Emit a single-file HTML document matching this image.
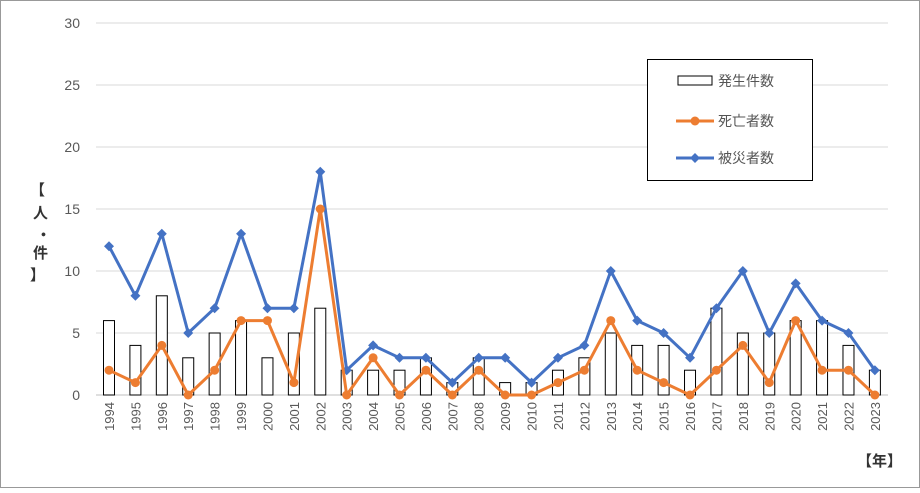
<!DOCTYPE html>
<html><head><meta charset="utf-8"><style>
body{margin:0;background:#fff}
svg text{font-family:"Liberation Sans","Noto Sans CJK JP",sans-serif}
</style></head><body>
<svg id="c" width="920" height="488" xmlns="http://www.w3.org/2000/svg">
<rect x="0.5" y="0.5" width="919" height="487" fill="#fff" stroke="#999"/>
<g id="grid"></g><g id="bars"></g><g id="lines"></g><g id="xlab"></g>
<text x="36" y="190" font-size="15" font-weight="bold" fill="#333"><tspan x="30" y="195">【</tspan><tspan x="33" y="218">人</tspan><tspan x="36" y="240">・</tspan><tspan x="33" y="258">件</tspan><tspan x="30" y="280">】</tspan></text>
<text x="857" y="466" font-size="15" font-weight="bold" fill="#333">【年】</text>
<g>
<rect x="647.5" y="59.5" width="165" height="121" fill="#fff" stroke="#000"/>
<rect x="678" y="76" width="34" height="9" fill="#fff" stroke="#000"/>
<text x="718" y="86" font-size="14" fill="#555">発生件数</text>
<line x1="676" y1="121" x2="714" y2="121" stroke="#ED7D31" stroke-width="3"/><circle cx="695" cy="121" r="4.5" fill="#ED7D31"/>
<text x="718" y="126" font-size="14" fill="#555">死亡者数</text>
<line x1="676" y1="158" x2="714" y2="158" stroke="#4472C4" stroke-width="3"/><path d="M695 153 L700 158 L695 163 L690 158Z" fill="#4472C4"/>
<text x="718" y="163" font-size="14" fill="#555">被災者数</text>
</g>
</svg>
<script>
const years=[1994,1995,1996,1997,1998,1999,2000,2001,2002,2003,2004,2005,2006,2007,2008,2009,2010,2011,2012,2013,2014,2015,2016,2017,2018,2019,2020,2021,2022,2023];
const incidents=[6,4,8,3,5,6,3,5,7,2,2,2,3,1,3,1,1,2,3,5,4,4,2,7,5,5,6,6,4,2];
const deaths=[2,1,4,0,2,6,6,1,15,0,3,0,2,0,2,0,0,1,2,6,2,1,0,2,4,1,6,2,2,0];
const victims=[12,8,13,5,7,13,7,7,18,2,4,3,3,1,3,3,1,3,4,10,6,5,3,7,10,5,9,6,5,2];
const yTicks=[0,5,10,15,20,25,30];
const NS="http://www.w3.org/2000/svg";
const y=v=>395-v*12.4;
const x=i=>109+i*26.41;
function mk(p,t,a){const e=document.createElementNS(NS,t);for(const k in a)e.setAttribute(k,a[k]);document.getElementById(p).appendChild(e);return e;}
yTicks.forEach(t=>{
 const l=mk('grid','line',{x1:96,x2:888,y1:y(t),y2:y(t),stroke:t?'#d9d9d9':'#bfbfbf'});
 
 
 const tx=mk('grid','text',{x:80,y:y(t)+5,'text-anchor':'end','font-size':14,fill:'#595959'});
 tx.textContent=t;
 
 
});
years.forEach((yr,i)=>{
 const r=mk('bars','rect',{x:x(i)-5.5,y:y(incidents[i]),width:11,height:incidents[i]*12.4,fill:'#fff',stroke:'#000','stroke-width':1});
 
 
 const t=mk('xlab','text',{transform:`translate(${x(i)+5},${402}) rotate(-90)`,'text-anchor':'end','font-size':13,fill:'#595959'});
 t.textContent=yr;
 
 
});
function series(vals,color,name,marker){
 const p=mk('lines','polyline',{points:vals.map((v,i)=>x(i)+','+y(v)).join(' '),fill:'none',stroke:color,'stroke-width':3,'stroke-linejoin':'round'});
 
 
 vals.forEach((v,i)=>{
  let m;
  if(marker==='c')m=mk('lines','circle',{cx:x(i),cy:y(v),r:4.5,fill:color});
  else m=mk('lines','path',{d:`M${x(i)} ${y(v)-5}L${x(i)+5} ${y(v)}L${x(i)} ${y(v)+5}L${x(i)-5} ${y(v)}Z`,fill:color});
  
  
 });
}
series(victims,'#4472C4','victims','d');
series(deaths,'#ED7D31','deaths','c');
</script>
</body></html>
